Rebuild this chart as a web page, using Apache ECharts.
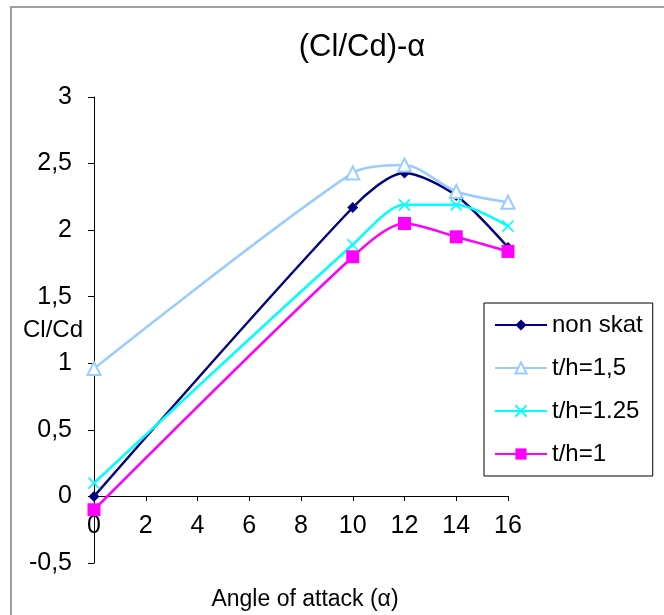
<!DOCTYPE html>
<html>
<head>
<meta charset="utf-8">
<script src="https://cdn.jsdelivr.net/npm/echarts@6/dist/echarts.min.js"></script>
<style>
html,body{margin:0;padding:0;background:#fff;}
#c{width:664px;height:615px;}
</style>
</head>
<body>
<div id="c"></div>
<script>
const xValues = [0, 10, 12, 14, 16];
const seriesNames = ['non skat', 't/h=1,5', 't/h=1.25', 't/h=1'];
const nonSkat = [0, 2.17, 2.43, 2.26, 1.87];
const th15 = [0.96, 2.43, 2.49, 2.29, 2.21];
const th125 = [0.10, 1.89, 2.19, 2.19, 2.03];
const th1 = [-0.10, 1.80, 2.05, 1.95, 1.84];
const yTicks = [-0.5, 0, 0.5, 1, 1.5, 2, 2.5, 3];
const xTicks = [0, 2, 4, 6, 8, 10, 12, 14, 16];

const FONT = '"Liberation Sans", Arial, sans-serif';
const pairs = ys => xValues.map((x, i) => [x, ys[i]]);

const chart = echarts.init(document.getElementById('c'), null, {renderer: 'canvas'});
const mk = (name, ys, color, symbol, size, extra) => Object.assign({
  name: name,
  type: 'line',
  xAxisIndex: 0, yAxisIndex: 0,
  data: pairs(ys),
  smooth: 0.28,
  symbol: symbol,
  symbolSize: size,
  showAllSymbol: true,
  lineStyle: {color: color, width: 2.5},
  itemStyle: {color: color},
  z: 3
}, extra || {});

const xMin = xTicks[0], xMax = xTicks[xTicks.length - 1];
const yMin = yTicks[0], yMax = yTicks[yTicks.length - 1];

chart.setOption({
  animation: false,
  backgroundColor: '#fff',
  textStyle: {fontFamily: FONT},
  title: {
    text: '(Cl/Cd)-α',
    left: 357, top: 27, textAlign: 'center',
    textStyle: {fontFamily: FONT, fontSize: 31, fontWeight: 'normal', color: '#000'}
  },
  grid: [
    {left: 94, right: 156, top: 97, bottom: 52, containLabel: false, outerBoundsMode: 'none'},
    {left: 94, right: 156, top: 97, bottom: 119, containLabel: false, outerBoundsMode: 'none'}
  ],
  xAxis: [{
    type: 'value', gridIndex: 0, min: xMin, max: xMax, interval: 2, show: false
  }, {
    type: 'value', gridIndex: 1, min: xMin, max: xMax, interval: 2, position: 'bottom',
    name: 'Angle of attack (α)', nameLocation: 'middle', nameGap: 92, nameMoveOverlap: false,
    nameTextStyle: {fontFamily: FONT, fontSize: 23, color: '#000', verticalAlign: 'top', padding: [0, 0, 0, 8]},
    axisLine: {onZero: false, lineStyle: {color: '#000', width: 1}},
    axisTick: {show: true, length: 5, lineStyle: {color: '#000'}},
    axisLabel: {fontFamily: FONT, fontSize: 25, color: '#000', margin: 18},
    splitLine: {show: false}
  }],
  yAxis: [{
    type: 'value', gridIndex: 0, min: yMin, max: yMax, interval: 0.5,
    name: 'Cl/Cd', nameLocation: 'middle', nameRotate: 0, nameGap: 11, nameMoveOverlap: false,
    nameTextStyle: {fontFamily: FONT, fontSize: 24, color: '#000'},
    axisLine: {onZero: false, lineStyle: {color: '#000', width: 1}},
    axisTick: {show: true, length: 6, lineStyle: {color: '#000'}},
    axisLabel: {fontFamily: FONT, fontSize: 25, color: '#000', margin: 22,
      formatter: v => String(v).replace('.', ',')},
    splitLine: {show: false}
  }, {
    type: 'value', gridIndex: 1, min: 0, max: yMax, show: false
  }],
  legend: {
    orient: 'vertical', left: 484, top: 303,
    padding: [10, 10, 10, 10],
    itemGap: 19,
    itemWidth: 52, itemHeight: 14,
    borderColor: '#000', borderWidth: 1,
    backgroundColor: '#fff',
    textStyle: {fontFamily: FONT, fontSize: 24, color: '#000', lineHeight: 24},
    data: seriesNames
  },
  graphic: [{
    type: 'rect', shape: {x: 11, y: 7, width: 800, height: 800},
    style: {fill: 'none', stroke: '#808080', lineWidth: 1.5}, silent: true, z: -10
  }],
  series: [
    mk(seriesNames[0], nonSkat, '#000080', 'diamond', 11),
    mk(seriesNames[1], th15, '#99CCFF', 'emptyTriangle', 13, {itemStyle: {color: '#99CCFF', borderColor: '#99CCFF', borderWidth: 1.5}}),
    mk(seriesNames[2], th125, '#00FFFF', 'path://M0,0L10,10M10,0L0,10', 11, {itemStyle: {color: 'rgba(0,0,0,0)', borderColor: '#00FFFF', borderWidth: 1.5}}),
    mk(seriesNames[3], th1, '#FF00FF', 'rect', 13)
  ]
});
</script>
</body>
</html>
